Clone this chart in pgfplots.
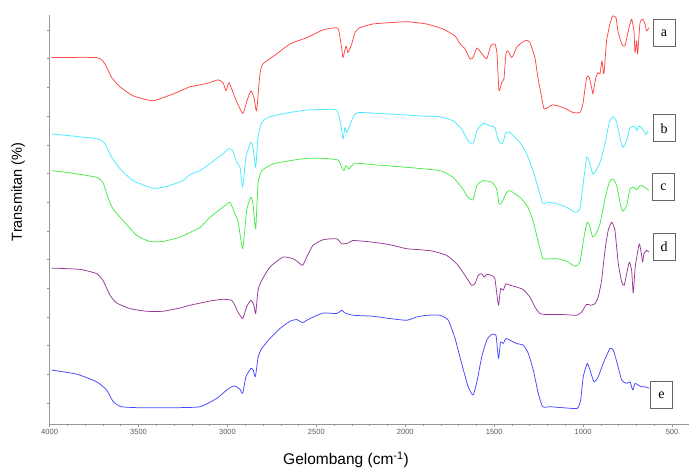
\documentclass[border=0pt]{standalone}
\usepackage{fontspec}
\setmainfont{Liberation Sans}
\newfontfamily\seriffont{Liberation Serif}
\usepackage{pgfplots}
\pgfplotsset{compat=1.18}
\definecolor{cA}{RGB}{255,70,70}
\definecolor{cB}{RGB}{70,235,255}
\definecolor{cC}{RGB}{70,235,70}
\definecolor{cD}{RGB}{150,55,150}
\definecolor{cE}{RGB}{70,70,255}
\definecolor{axgray}{RGB}{150,150,150}
\begin{document}
\begin{tikzpicture}
\useasboundingbox (0,0) rectangle (689pt,467pt);
\begin{axis}[
  at={(49.6pt,43pt)}, anchor=south west,
  scale only axis, width=640.2pt, height=409pt,
  x dir=reverse, xmin=400, xmax=4000,
  ymin=16, ymax=426,
  axis x line*=bottom, axis y line*=left,
  axis line style={axgray, line width=0.6pt},
  xtick={500,1000,...,4000},
  minor x tick num=4,
  ytick={37,65.8,94.5,123.3,152.1,180.8,209.6,238.4,267.2,295.9,324.7,353.5,382.2,411},
  minor y tick num=4,
  yticklabels={},
  tick align=outside,
  major tick length=3pt, minor tick length=1.5pt,
  every tick/.style={axgray, line width=0.5pt},
  tick label style={font=\fontsize{7.5}{8}\selectfont, text=black!65},
  /pgf/number format/assume math mode=true,
  /pgf/number format/1000 sep={},
  xticklabel style={yshift=1pt},
  every axis plot/.append style={line width=0.75pt, line join=round, smooth, tension=0.3},
]
% a
\addplot[cA] coordinates {
(3988,383.3)(3735,383.3)(3689,377)(3651,363.3)(3604,354)(3531,345)(3426,340)(3379,342)(3285,348.3)(3211,354)(3154,356)(3098,358.3)(3053,361)(3025,358.3)(3008,350)(2991,358.3)(2958,343.3)(2914,327.3)(2890,340)(2868,350)(2851,343.3)(2836,330)(2817,367)(2800,377)(2723,387)(2648,397)(2554,403.3)(2463,411)(2386,413.3)(2373,410)(2358,393.3)(2350,383.3)(2333,395)(2322,388.3)(2301,397)(2283,408.3)(2255,413.3)(2182,417)(2086,418.3)(1992,419.3)(1880,417)(1788,412)(1720,405)(1692,397)(1664,392)(1636,382)(1619,383.3)(1597,393)(1570,387.3)(1542,382)(1520,395)(1496,397)(1484,387)(1473,350)(1458,358.3)(1445,362)(1434,387)(1423,390)(1402,383.3)(1389,387)(1374,393.3)(1346,398.3)(1317,400.7)(1299,398.3)(1271,383.3)(1254,363.3)(1233,343.3)(1220,332)(1198,333.3)(1170,336)(1113,333.3)(1057,328.3)(1018,328.3)(1001,337)(980,363.3)(967,364)(952,353.3)(945,347)(928,363.3)(916,368.3)(905,367)(894,380)(883,367)(868,400)(849,417)(834,425)(815,423.3)(804,410)(783,397)(765,395)(742,413.3)(727,421.7)(714,410)(708,388.3)(699,400)(693,387)(680,418.3)(665,421.7)(652,417)(643,410)(630,413.3)
};
% b
\addplot[cB] coordinates {
(3988,306.7)(3735,302)(3689,297)(3651,283.3)(3604,272)(3531,260)(3419,252.3)(3342,254)(3250,260)(3211,266)(3154,270)(3098,277)(3025,287)(2991,292)(2969,290)(2948,278.3)(2929,273.3)(2914,253.3)(2896,283.3)(2869,298.3)(2856,293.3)(2841,273.3)(2828,303.3)(2807,318.3)(2761,324)(2648,328.3)(2554,330.7)(2463,331.3)(2386,330.7)(2363,316.7)(2350,301.7)(2339,313.3)(2328,308.3)(2294,323.3)(2266,328.3)(2086,326.7)(1901,324.7)(1805,324)(1732,320)(1683,311.7)(1647,300)(1619,296.7)(1597,310)(1563,317.3)(1524,315)(1496,313.3)(1479,301.7)(1458,296.7)(1445,301.7)(1434,308.3)(1411,308.3)(1394,305)(1355,298.3)(1317,286.7)(1282,270)(1254,253.3)(1226,237)(1198,238.3)(1149,236.7)(1092,233.3)(1046,228.3)(1018,231.7)(995,263.3)(980,283.3)(967,280)(946,266.7)(928,270)(905,278.3)(877,296.7)(853,318.3)(832,324)(811,318.3)(789,300)(776,293.3)(755,300)(736,313.3)(708,314)(699,310)(686,315)(665,311.7)(646,306)(635,310)
};
% c
\addplot[cC] coordinates {
(3988,270)(3869,267.3)(3735,263.3)(3700,258.3)(3672,243.3)(3644,231.7)(3587,220)(3510,205)(3436,199)(3362,199)(3267,203.3)(3211,208)(3154,213)(3098,223.3)(3025,233.3)(2986,238.3)(2958,226.7)(2941,220)(2914,191.7)(2892,230)(2869,243.3)(2856,236.7)(2841,211.7)(2828,256.7)(2807,270)(2744,276.7)(2648,280)(2554,282.3)(2463,282.3)(2378,280.7)(2358,273.3)(2345,270)(2333,275)(2317,271.7)(2283,277.3)(2182,276)(1992,273.3)(1805,270)(1732,263.3)(1683,253.3)(1647,243.3)(1619,240.7)(1597,255)(1563,260)(1514,258.3)(1486,251.7)(1473,236.7)(1464,236.7)(1451,240)(1430,248.3)(1411,250)(1383,246.7)(1346,241.7)(1310,233.3)(1282,220)(1254,200)(1226,181.7)(1198,181.7)(1149,181.7)(1092,179.3)(1046,174)(1018,178.3)(995,203.3)(977,218.3)(961,213.3)(946,203.3)(928,206.7)(905,216.7)(877,241.7)(853,258.3)(832,261.7)(811,255)(789,235)(776,229.3)(755,235)(736,251.7)(714,253.3)(699,250.7)(680,255)(658,254)(630,250)
};
% d
\addplot[cD] coordinates {
(3988,172.3)(3829,171)(3735,166.7)(3700,160)(3660,145)(3623,137.3)(3548,131.7)(3454,129)(3362,129)(3267,132.3)(3211,135)(3098,139.3)(3025,141)(2976,140)(2958,135)(2941,128.3)(2914,121.7)(2892,133.3)(2869,140)(2851,135)(2841,126.7)(2828,150)(2807,160)(2761,173.3)(2688,183.3)(2631,181.7)(2603,178.3)(2577,175)(2554,183.3)(2519,195)(2463,200.7)(2386,201.7)(2358,196.7)(2339,196.7)(2317,197.7)(2294,200)(2182,198.3)(2086,195.7)(1992,191.7)(1917,190.7)(1844,189.3)(1767,185)(1711,176.7)(1664,165)(1627,155)(1608,156.7)(1590,165)(1570,166.7)(1557,163.3)(1542,166)(1514,165)(1496,161.7)(1483,143.3)(1475,135)(1464,151.7)(1449,150)(1434,156.7)(1411,155)(1374,153.3)(1336,150.7)(1299,143.3)(1271,133.3)(1243,126.7)(1205,125.7)(1112,125.7)(1036,125)(1008,128.3)(980,136)(957,135)(933,136.7)(915,143.3)(896,160)(877,190)(859,210)(839,218.3)(821,210)(802,176.7)(783,158.3)(769,155)(755,166.7)(740,178.3)(727,170)(718,147.3)(707,173.3)(695,186.7)(684,196.7)(675,190)(665,178.3)(658,186.7)(643,190)(630,188.3)
};
% e
\addplot[cE] coordinates {
(3988,70)(3848,66)(3735,58.3)(3679,50)(3642,38.3)(3595,33.3)(3492,32.3)(3304,32.3)(3154,33.3)(3060,41.7)(3004,50)(2970,54)(2948,53.3)(2929,50.7)(2914,46.7)(2896,63.3)(2868,71.7)(2855,70)(2843,63.3)(2827,83.3)(2807,91.7)(2761,101.7)(2705,111.7)(2648,119)(2611,120.7)(2577,117.7)(2536,121.7)(2461,127.3)(2386,126.7)(2358,130)(2339,127.3)(2292,125)(2180,124)(2086,121.7)(1992,120)(1936,123.3)(1880,125)(1805,125)(1758,120)(1720,101.7)(1683,76.7)(1646,53.3)(1618,45)(1595,60)(1570,83.3)(1542,100)(1514,106)(1490,105)(1483,93.3)(1475,81.7)(1464,98.3)(1449,96.7)(1434,101.7)(1411,100)(1374,96.7)(1336,95)(1308,86.7)(1280,70)(1252,46.7)(1227,33.3)(1186,33.3)(1112,32.3)(1033,31.7)(1014,40)(999,63.3)(977,76.7)(961,70)(939,58.3)(915,63.3)(887,76.7)(849,91.7)(830,90)(808,76.7)(783,60)(755,56.7)(736,58.3)(721,50)(708,56.7)(690,55)(671,53.3)(652,53.3)(628,51.7)
};
\tikzset{lbl/.style={draw=black!60, fill=white, line width=0.7pt, minimum width=22pt, minimum height=27pt, inner sep=0pt, font=\seriffont\fontsize{14}{14}\selectfont}}
\node[lbl] at (axis cs:545,408) {a};
\node[lbl] at (axis cs:545,312.5) {b};
\node[lbl] at (axis cs:548,253.5) {c};
\node[lbl] at (axis cs:545,193.5) {d};
\node[lbl] at (axis cs:559,45) {e};
\end{axis}
\node[rotate=90, font=\fontsize{14.5}{15}\selectfont] at (18pt,275pt) {Transmitan (\%)};
\node[font=\fontsize{15.5}{16}\selectfont] at (346pt,7pt) {Gelombang (cm\textsuperscript{-1})};
\end{tikzpicture}
\end{document}
